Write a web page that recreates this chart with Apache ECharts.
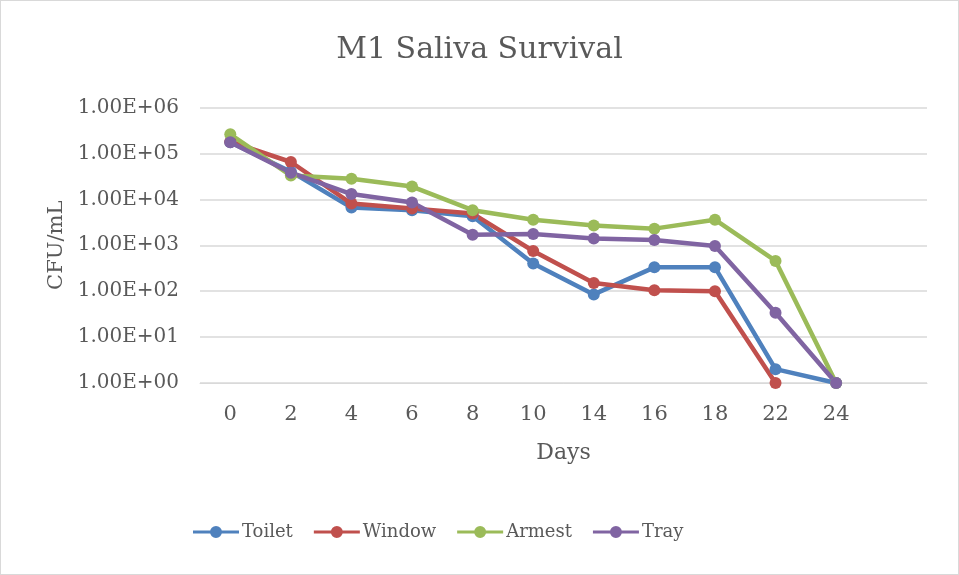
<!DOCTYPE html>
<html><head><meta charset="utf-8">
<script src="https://cdn.jsdelivr.net/npm/echarts@6/dist/echarts.min.js"></script>
<style>html,body{margin:0;padding:0;background:#fff}#c{width:957px;height:573px;border:1px solid #d9d9d9}</style>
</head><body><div id="c"></div>
<script>
const days = ['0','2','4','6','8','10','14','16','18','22','24',''];
const toilet = [175000, 40000, 6600, 5800, 4300, 400, 85, 330, 330, 2, 1];
const windowS = [180000, 65000, 8100, 6300, 4900, 750, 150, 105, 100, 1, null];
const armest = [260000, 33000, 28000, 19000, 5800, 3600, 2700, 2300, 3600, 455, 1];
const tray = [176000, 38000, 13000, 8500, 1700, 1750, 1400, 1300, 960, 34, 1];
const yTicks = ['1.00E+00','1.00E+01','1.00E+02','1.00E+03','1.00E+04','1.00E+05','1.00E+06'];
const font = 'DejaVu Serif';
const txt = '#595959';
const icon = 'path://M0,4.5 L46,4.5 L46,7.5 L0,7.5 Z M17,6 A6,6 0 1,1 29,6 A6,6 0 1,1 17,6 Z';
function ser(name, data, color){
  return {name, type:'line', data, symbol:'circle', symbolSize:12,
    lineStyle:{width:4.5,color}, itemStyle:{color}, connectNulls:false};
}
const chart = echarts.init(document.getElementById('c'));
chart.setOption({
  animation:false,
  color:['#4F81BD','#C0504D','#9BBB59','#8064A2'],
  title:{text:'M1 Saliva Survival', left:'center', top:29,
    textStyle:{fontFamily:font, fontSize:30, fontWeight:'normal', color:txt}},
  grid:{left:199, right:31, top:106.5, bottom:191},
  xAxis:{type:'category', data:days, boundaryGap:true,
    name:'Days', nameLocation:'middle', nameGap:59,
    nameTextStyle:{fontFamily:font, fontSize:22, color:txt},
    axisLine:{show:true, lineStyle:{color:'#d9d9d9', width:1}},
    axisTick:{show:false},
    axisLabel:{fontFamily:font, fontSize:21, color:txt, margin:21}},
  yAxis:{type:'log', logBase:10, min:1, max:1000000,
    name:'CFU/mL', nameLocation:'middle', nameGap:131, nameRotate:90,
    nameTextStyle:{fontFamily:font, fontSize:21, color:txt},
    axisLine:{show:false}, axisTick:{show:false},
    splitLine:{lineStyle:{color:'#d9d9d9', width:1.5}},
    axisLabel:{fontFamily:font, fontSize:20, color:txt, margin:21,
      formatter:function(v){ const e=Math.round(Math.log10(v)); return yTicks[e]; }}},
  legend:{bottom:28, left:187, itemWidth:46, itemHeight:12, itemGap:21,
    textStyle:{fontFamily:font, fontSize:18, color:txt, padding:[0,0,0,-2]},
    data:[{name:'Toilet',icon},{name:'Window',icon},{name:'Armest',icon},{name:'Tray',icon}]},
  series:[ser('Toilet',toilet,'#4F81BD'), ser('Window',windowS,'#C0504D'),
          ser('Armest',armest,'#9BBB59'), ser('Tray',tray,'#8064A2')]
});
</script></body></html>
